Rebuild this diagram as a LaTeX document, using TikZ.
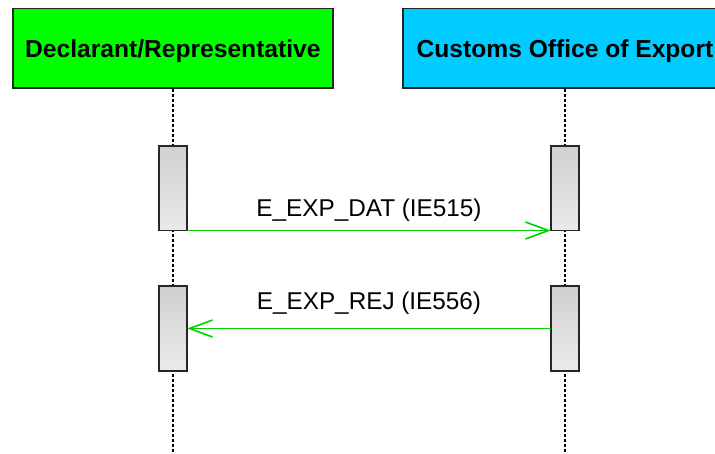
\documentclass[tikz,border=0pt]{standalone}
\usepackage{fontspec}
\setmainfont{Liberation Sans}
\usepackage{tikz}
\usetikzlibrary{arrows.meta,positioning,calc}
\definecolor{declgreen}{RGB}{0,255,0}
\definecolor{custcyan}{RGB}{0,204,255}
\definecolor{msggreen}{RGB}{0,210,0}
\definecolor{acttop}{RGB}{208,208,208}
\definecolor{actbot}{RGB}{234,234,234}
\tikzset{
  sqtitle/.style={draw=black!85, line width=1.6pt, minimum height=79.6pt, align=center, inner sep=0pt, text depth=0pt, font=\fontsize{24.6}{28}\selectfont\bfseries},
  sqact/.style={draw=black!85, line width=1.6pt, minimum width=28.5pt, minimum height=84.5pt, inner sep=0pt, outer sep=0pt, top color=acttop, bottom color=actbot},
  sqlife/.style={line width=1.4pt, dash pattern=on 3pt off 2pt},
  sqmsg/.style={-{Straight Barb[length=23pt,width=17pt]}, draw=msggreen, line width=1.6pt},
  sqlabel/.style={inner sep=0pt, font=\fontsize{24.3}{28}\selectfont}
}

\begin{document}
\begin{tikzpicture}[x=1pt, y=-1pt]
  \clip (0,0) rectangle (715,454);
  \coordinate (bottom) at (0,454);
  \node[sqtitle, fill=declgreen, minimum width=320pt] (decl) at (172.9,48.5) {Declarant/Representative};
  \node[sqtitle, fill=custcyan, minimum width=324pt] (cust) at (565,48.5) {Customs Office of Export};
  % lifelines
  \draw[sqlife] (decl.south) -- (decl.south |- bottom);
  \draw[sqlife] (cust.south) -- (cust.south |- bottom);
  % activations
  \node[sqact] (declact1) at (173,188.25) {};
  \node[sqact] (custact1) at (565,188.25) {};
  \node[sqact] (declact2) at (173,328.5) {};
  \node[sqact] (custact2) at (565,328.5) {};
  % messages
  \draw[sqmsg] (declact1.south east) -- node[sqlabel, above=8pt] (datlabel) {E\_EXP\_DAT (IE515)} (custact1.south west);
  \draw[sqmsg] (custact2.west) -- node[sqlabel, above=13pt] (rejlabel) {E\_EXP\_REJ (IE556)} (declact2.east);
\end{tikzpicture}
\end{document}
